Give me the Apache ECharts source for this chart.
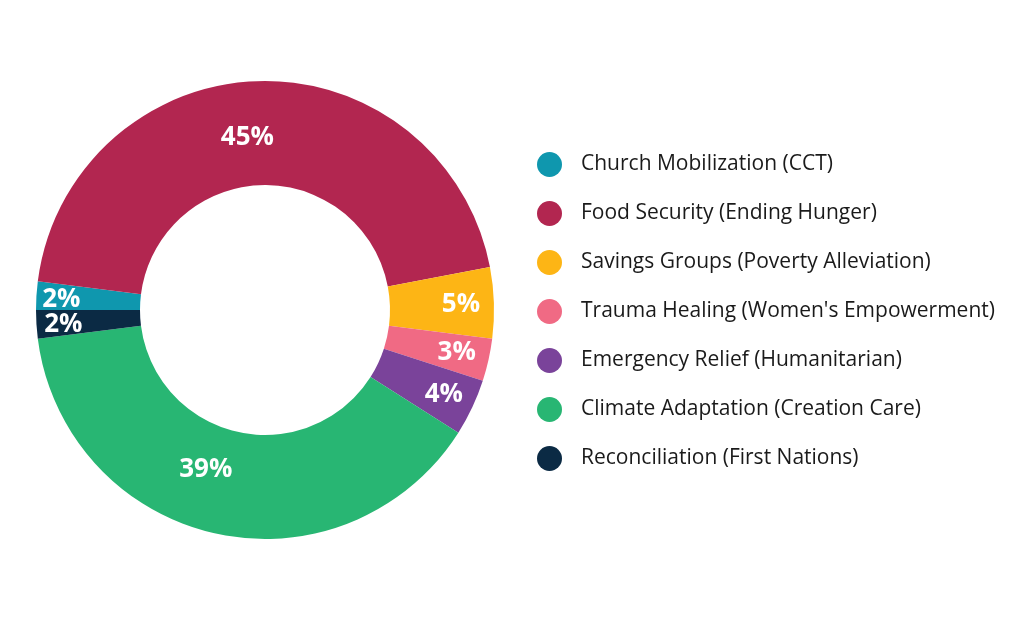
<!DOCTYPE html>
<html>
<head>
<meta charset="utf-8">
<script src="https://cdn.jsdelivr.net/npm/echarts@6/dist/echarts.min.js"></script>
<style>html,body{margin:0;padding:0;background:#fff;}#c{width:1024px;height:620px;}</style>
</head>
<body>
<div id="c"></div>
<script>
const categories = [
  "Church Mobilization (CCT)",
  "Food Security (Ending Hunger)",
  "Savings Groups (Poverty Alleviation)",
  "Trauma Healing (Women's Empowerment)",
  "Emergency Relief (Humanitarian)",
  "Climate Adaptation (Creation Care)",
  "Reconciliation (First Nations)"
];
const values = [2, 45, 5, 3, 4, 39, 2];
const colors = ["#0f97ae", "#b22650", "#fdb515", "#f06a84", "#7a439a", "#28b673", "#0b2a44"];
// label nudges (style only)
const labelOffsets = [[-24, 1], [-12, 8], [16, 0], [16, 3], [16, 8], [-20, -16], [-22, 3]];

const chart = echarts.init(document.getElementById('c'));
chart.setOption({
  backgroundColor: '#ffffff',
  color: colors,
  legend: {
    orient: 'vertical',
    left: 532,
    top: 147,
    icon: 'circle',
    itemWidth: 25,
    itemHeight: 25,
    itemGap: 24,
    data: categories,
    textStyle: {
      fontFamily: 'Open Sans',
      fontSize: 21,
      color: '#1a1a1a',
      padding: [0, 0, 0, 14]
    }
  },
  series: [{
    type: 'pie',
    center: [265, 310],
    radius: [125, 229],
    startAngle: 180,
    clockwise: true,
    avoidLabelOverlap: false,
    labelLayout: { hideOverlap: false },
    itemStyle: { borderWidth: 0 },
    label: {
      show: true,
      position: 'inside',
      formatter: '{c}%',
      color: '#ffffff',
      fontFamily: 'Open Sans',
      fontWeight: 'bold',
      fontSize: 26
    },
    labelLine: { show: false },
    emphasis: { disabled: true },
    data: categories.map((n, i) => ({ name: n, value: values[i], label: { offset: labelOffsets[i] } }))
  }],
  animation: false
});
</script>
</body>
</html>
